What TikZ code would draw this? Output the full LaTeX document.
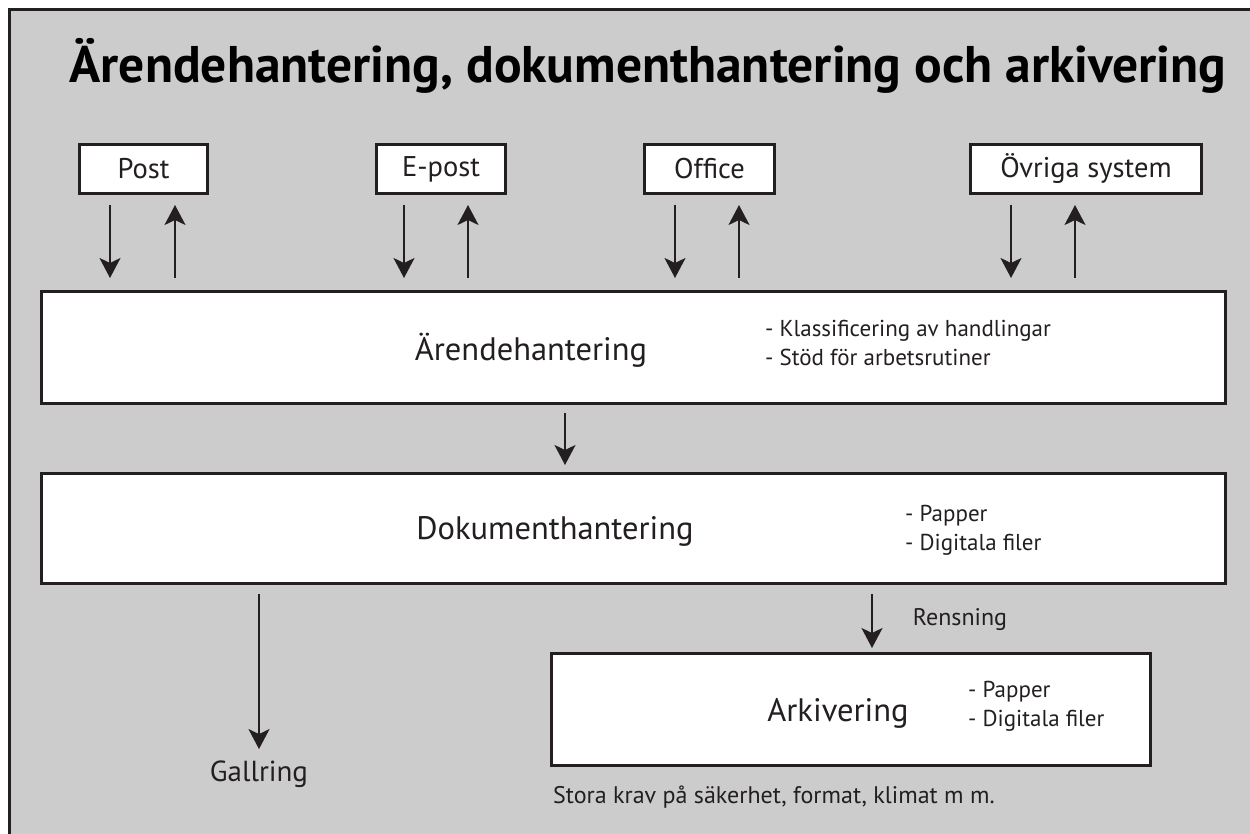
\documentclass[tikz,border=0pt]{standalone}
\usepackage{fontspec}
\setmainfont{PT Sans}
\usetikzlibrary{arrows.meta}
\definecolor{bgray}{RGB}{204,204,204}
\definecolor{ink}{RGB}{35,31,32}
\tikzstyle{box}=[draw=ink,fill=white,line width=3pt,inner sep=0pt]
\tikzstyle{srcbox}=[box,minimum height=49pt,font=\fontsize{28.5}{32}\selectfont,text=ink]
\tikzstyle{bigbox}=[box,minimum width=1184pt]
\tikzstyle{lbl}=[text=ink,font=\fontsize{32.5}{38}\selectfont]
\tikzstyle{lst}=[text=ink,anchor=west,align=left,inner sep=0pt,font=\fontsize{23}{29}\selectfont]
\tikzstyle{arr}=[draw=ink,line width=2pt,-{Stealth[length=20pt,width=21pt,inset=5pt]}]

\begin{document}
\begin{tikzpicture}[x=1pt,y=-1pt]
\useasboundingbox (0,0) rectangle (1250,833);
\fill[white] (0,0) rectangle (1250,833);
\draw[ink,fill=bgray,line width=3pt] (9,9) rectangle (1265,850);
\node[font=\fontsize{51.5}{56}\selectfont\bfseries] (title) at (648,66) {Ärendehantering, dokumenthantering och arkivering};
% system boxes
\node[srcbox,minimum width=128pt] (post) at (143.5,169) {Post};
\node[srcbox,minimum width=129pt] (epost) at (441,169) {E-post};
\node[srcbox,minimum width=130pt] (office) at (709.5,169) {Office};
\node[srcbox,minimum width=231pt] (ovriga) at (1086,169) {Övriga system};
% main boxes
\node[bigbox,minimum height=112pt] (arende) at (633.5,347.5) {};
\node[lbl] (arendetxt) at (531,350) {Ärendehantering};
\node[lst] (arendelst) at (765,343) {- Klassificering av handlingar\\- Stöd för arbetsrutiner};
\node[bigbox,minimum height=110pt] (dokument) at (633.5,528.5) {};
\node[lbl] (dokumenttxt) at (555,531) {Dokumenthantering};
\node[lst] (dokumentlst) at (905,530) {- Papper\\- Digitala filer};
\node[box,minimum width=599pt,minimum height=112pt] (arkiv) at (851,709.5) {};
\node[lbl] (arkivtxt) at (838,713) {Arkivering};
\node[lst] (arkivlst) at (968,706) {- Papper\\- Digitala filer};
\node[lbl,font=\fontsize{29}{32}\selectfont] (gallring) at (259,774) {Gallring};
\node[text=ink,font=\fontsize{24}{28}\selectfont] (rensning) at (960,620) {Rensning};
\node[lst,font=\fontsize{24}{28}\selectfont] (krav) at (553,797) {Stora krav på säkerhet, format, klimat m m.};
% arrows in and out
\draw[arr,shorten <=10pt,shorten >=12pt] ([xshift=-33.5pt]post.south) -- ([xshift=-33.5pt]post.south |- arende.north);
\draw[arr,shorten <=12pt,shorten >=10pt] ([xshift=31.5pt]post.south |- arende.north) -- ([xshift=31.5pt]post.south);
\draw[arr,shorten <=10pt,shorten >=12pt] ([xshift=-37pt]epost.south) -- ([xshift=-37pt]epost.south |- arende.north);
\draw[arr,shorten <=12pt,shorten >=10pt] ([xshift=27pt]epost.south |- arende.north) -- ([xshift=27pt]epost.south);
\draw[arr,shorten <=10pt,shorten >=12pt] ([xshift=-34.5pt]office.south) -- ([xshift=-34.5pt]office.south |- arende.north);
\draw[arr,shorten <=12pt,shorten >=10pt] ([xshift=29.5pt]office.south |- arende.north) -- ([xshift=29.5pt]office.south);
\draw[arr,shorten <=10pt,shorten >=12pt] ([xshift=-75pt]ovriga.south) -- ([xshift=-75pt]ovriga.south |- arende.north);
\draw[arr,shorten <=12pt,shorten >=10pt] ([xshift=-11pt]ovriga.south |- arende.north) -- ([xshift=-11pt]ovriga.south);
% flow down
\draw[arr,shorten <=8pt,shorten >=7pt] ([xshift=-68.5pt]arende.south) -- ([xshift=-68.5pt]arende.south |- dokument.north);
\draw[arr,shorten <=9pt,shorten >=4pt] ([xshift=21pt]arkiv.north |- dokument.south) -- ([xshift=21pt]arkiv.north);
\draw[arr,shorten <=9pt,shorten >=8pt] (gallring.north |- dokument.south) -- (gallring.north);
\end{tikzpicture}
\end{document}
